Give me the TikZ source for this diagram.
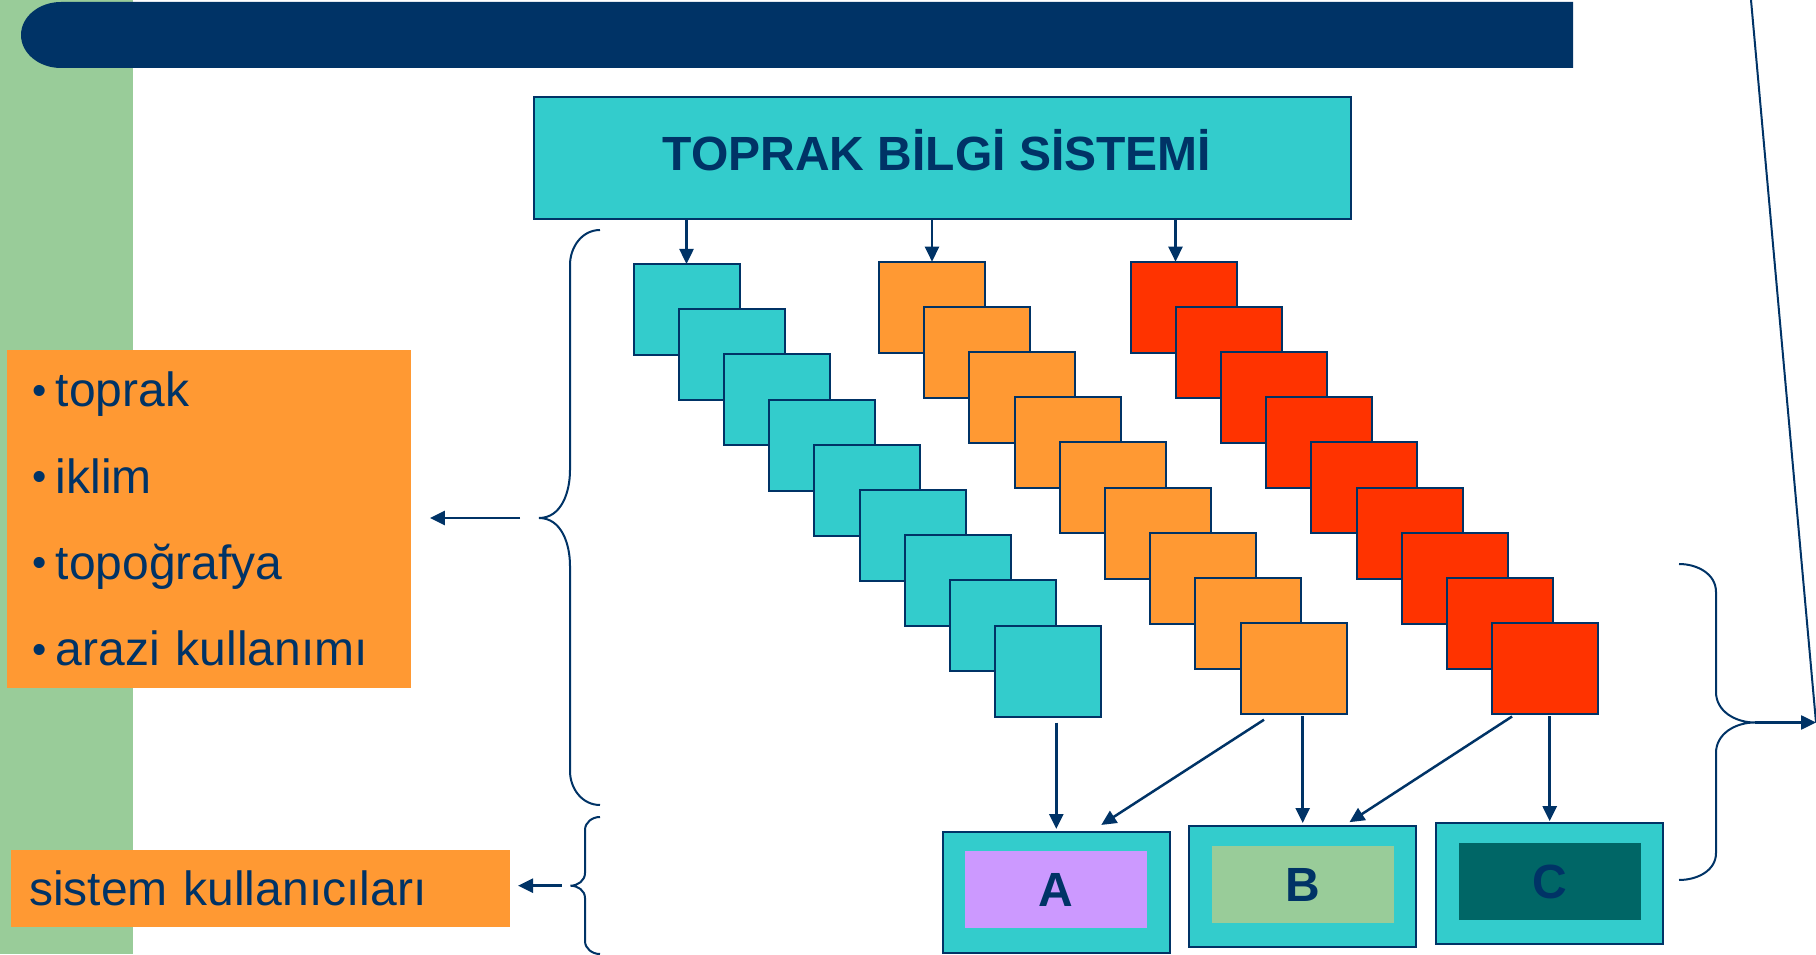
\documentclass[tikz,border=0pt]{standalone}
\usepackage{fontspec}
\setmainfont{Liberation Sans}
\usetikzlibrary{arrows.meta,calc}
\definecolor{navy}{HTML}{003366}
\definecolor{tealc}{HTML}{33CCCC}
\definecolor{orangec}{HTML}{FF9933}
\definecolor{redc}{HTML}{FF3300}
\definecolor{greenc}{HTML}{99CC99}
\definecolor{lilac}{HTML}{CC99FF}
\definecolor{darkteal}{HTML}{006666}
\newcommand{\itemdot}{\raisebox{2.5pt}{\scalebox{0.85}{•}}\hspace{9pt}}

\begin{document}
\begin{tikzpicture}[x=1pt,y=1pt,
  sq/.style={rectangle,draw=navy,line width=2pt,minimum width=106pt,minimum height=91pt,inner sep=0pt,outer sep=0pt},
  tsq/.style={sq,fill=tealc},
  osq/.style={sq,fill=orangec},
  rsq/.style={sq,fill=redc},
  titlebox/.style={rectangle,draw=navy,line width=2.5pt,fill=tealc,minimum width=817pt,minimum height=122pt,text height=26pt,text depth=0pt,font=\bfseries\fontsize{48}{58}\selectfont,text=navy},
  outbox/.style={rectangle,draw=navy,line width=2.5pt,fill=tealc,minimum width=227pt,minimum height=121pt,outer sep=0pt},
  inbox/.style={rectangle,minimum width=182pt,minimum height=77pt,inner sep=0pt,font=\bfseries\fontsize{48}{58}\selectfont,text=navy},
  sidebox/.style={rectangle,fill=orangec,text=navy,align=left,inner ysep=0pt,outer sep=0pt},
  arr/.style={draw=navy,line width=2.5pt,-{Triangle[length=15pt,width=14pt]}},
  brc/.style={draw=navy,line width=2pt}]
\useasboundingbox (0,0) rectangle (1816,954);
\fill[greenc] (0,0) rectangle (133,954);
\fill[navy] (1573,952) -- (61,952) arc[start angle=90,end angle=270,x radius=40pt,y radius=33pt] -- (1573,886) -- cycle;

\node[titlebox] (title) at (942.5,796) {\kern-11pt TOPRAK BİLGİ SİSTEMİ};

\node[tsq] (t1) at (686.5,644.5) {};
\node[tsq] (t2) at (731.7,599.3) {};
\node[tsq] (t3) at (776.9,554.1) {};
\node[tsq] (t4) at (822.1,508.9) {};
\node[tsq] (t5) at (867.3,463.7) {};
\node[tsq] (t6) at (912.5,418.5) {};
\node[tsq] (t7) at (957.7,373.3) {};
\node[tsq] (t8) at (1002.9,328.1) {};
\node[tsq] (t9) at (1048.1,282.9) {};

\node[osq] (o1) at (932,646.8) {};
\node[osq] (o2) at (977.2,601.6) {};
\node[osq] (o3) at (1022.4,556.4) {};
\node[osq] (o4) at (1067.6,511.2) {};
\node[osq] (o5) at (1112.8,466) {};
\node[osq] (o6) at (1158,420.8) {};
\node[osq] (o7) at (1203.2,375.6) {};
\node[osq] (o8) at (1248.4,330.4) {};
\node[osq] (o9) at (1293.6,285.2) {};

\node[rsq] (r1) at (1183.5,646.8) {};
\node[rsq] (r2) at (1228.7,601.6) {};
\node[rsq] (r3) at (1273.9,556.4) {};
\node[rsq] (r4) at (1319.1,511.2) {};
\node[rsq] (r5) at (1364.3,466) {};
\node[rsq] (r6) at (1409.5,420.8) {};
\node[rsq] (r7) at (1454.7,375.6) {};
\node[rsq] (r8) at (1499.9,330.4) {};
\node[rsq] (r9) at (1545.1,285.2) {};

\coordinate (rin) at ($(r1.north)+(-8,0)$);
\draw[arr] (title.south -| t1.north) -- (t1.north);
\draw[arr] (title.south -| o1.north) -- (o1.north);
\draw[arr] (title.south -| rin) -- (rin);

\node[outbox] (boxa) at (1056.3,61.5) {};
\node[outbox] (boxb) at (1302.7,67.5) {};
\node[outbox] (boxc) at (1549.7,70.3) {};
\node[inbox,fill=lilac] (a) at ([yshift=3pt]boxa.center) {A};
\node[inbox,fill=greenc] (b) at ([yshift=2pt]boxb.center) {B};
\node[inbox,fill=darkteal] (c) at ([yshift=2pt]boxc.center) {C};

\draw[arr,shorten <=6pt,shorten >=3pt] (t9.south -| boxa.north) -- (boxa.north);
\draw[arr,shorten <=10pt,shorten >=13pt] ($(o9.south west)!0.3!(o9.south east)$) -- ($(boxa.north west)!0.65!(boxa.north east)$);
\draw[arr,shorten <=2pt,shorten >=3pt] (o9.south -| boxb.north) -- (boxb.north);
\draw[arr,shorten <=4pt,shorten >=7pt] ($(r9.south west)!0.22!(r9.south east)$) -- ($(boxb.north west)!0.68!(boxb.north east)$);
\draw[arr,shorten <=2pt,shorten >=2pt] (r9.south -| boxc.north) -- (boxc.north);

\node[sidebox,minimum height=338pt,text width=353pt,inner xsep=25.4pt,font=\fontsize{48}{86.3}\selectfont] (list) at (209,435)
  {\itemdot toprak\\\itemdot iklim\\\itemdot topoğrafya\\\itemdot arazi kullanımı};
\node[sidebox,minimum height=77pt,text width=463pt,inner xsep=18pt,font=\fontsize{48}{58}\selectfont] (users) at (260.5,65.7) {sistem kullanıcıları};

\coordinate (lb) at (539,436);
\draw[brc] (600,724) to[out=180,in=90] (570,689) -- (570,484) to[out=270,in=0] (lb) to[out=0,in=90] (570,388) -- (570,183) to[out=270,in=180] (600,149);
\draw[arr,shorten <=19pt,shorten >=19pt] (lb) -- (list.east |- lb);

\coordinate (sb) at (570.5,68.3);
\draw[brc] (600,137) to[out=180,in=90] (585,124) -- (585,81) to[out=270,in=0] (sb) to[out=0,in=90] (585,56) -- (585,13) to[out=270,in=180] (600,0);
\draw[arr,shorten <=9pt,shorten >=8pt] (sb) -- (users.east |- sb);

\coordinate (rb) at (1754.7,231.5);
\coordinate (rt) at (1816,231.5);
\coordinate (top) at (1751,954);
\draw[brc] (1679,390) to[out=0,in=90] (1716,362) -- (1716,262) to[out=270,in=180] (rb) to[out=180,in=90] (1716,201) -- (1716,101) to[out=270,in=0] (1679,74);
\draw[arr] (rb) -- (rt);
\draw[brc] (top) -- (rt);
\end{tikzpicture}
\end{document}
